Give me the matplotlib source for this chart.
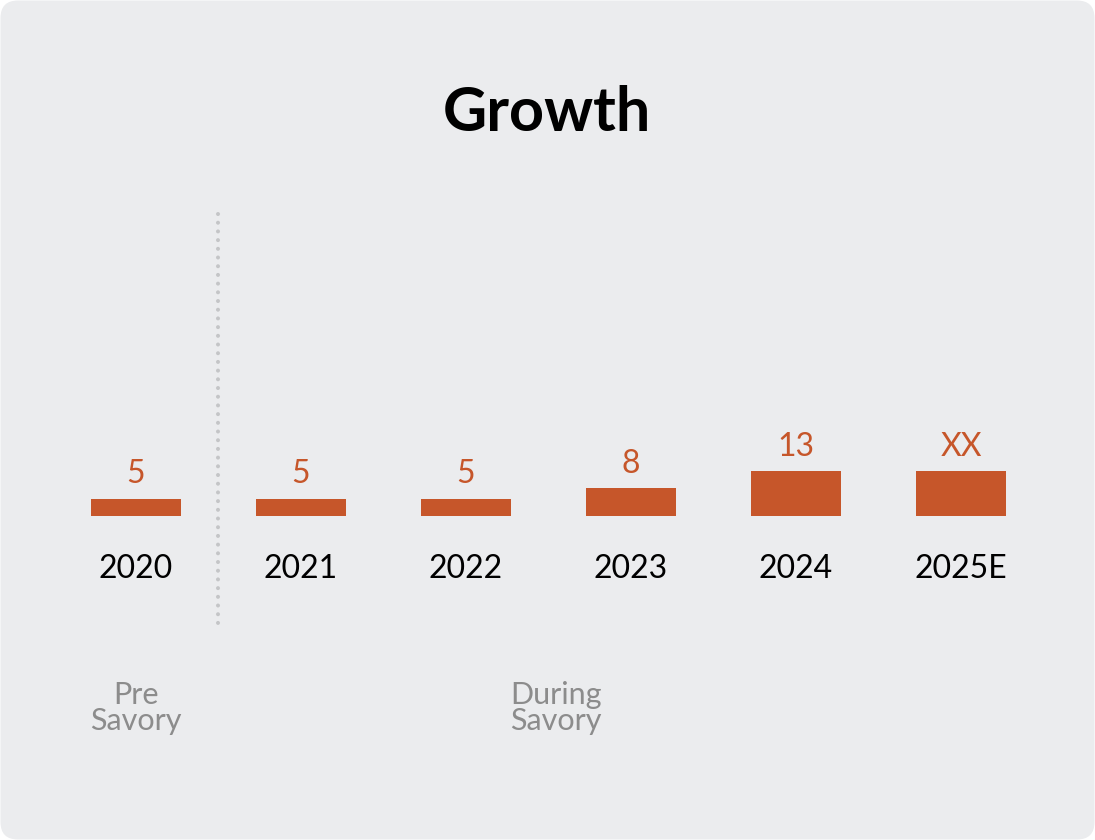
import matplotlib
matplotlib.use("Agg")
import matplotlib.pyplot as plt
from matplotlib.patches import FancyBboxPatch

# ---- data ----
years = ["2020", "2021", "2022", "2023", "2024", "2025E"]
values = [5, 5, 5, 8, 13, 13]
value_labels = ["5", "5", "5", "8", "13", "XX"]
groups = ["Pre\nSavory", "During\nSavory"]
title = "Growth"

# ---- style ----
W, H, DPI = 1095, 840, 100
BG = "#EBECEE"
BAR = "#C6562A"
GRAY = "#8C8C8C"
FONT = "Lato"
PX_PER_UNIT = 3.45
BASE_Y = 516  # pixel row (from top) of bar baseline
X0, DX = 136, 165  # pixel centre of first bar and spacing

plt.rcParams['font.family'] = [FONT, 'DejaVu Sans']

fig = plt.figure(figsize=(W / DPI, H / DPI), dpi=DPI)
fig.patch.set_facecolor("white")

bg = FancyBboxPatch((0.5 / W, 0.5 / H), (W - 1) / W, (H - 1) / H,
                    boxstyle="round,pad=0,rounding_size=0.016",
                    transform=fig.transFigure, facecolor=BG, edgecolor="none",
                    mutation_aspect=W / H, zorder=-10)
fig.patches.append(bg)

ax = fig.add_axes([0, 0, 1, 1])
ax.set_facecolor("none")
ax.set_xlim(-X0 / DX, (W - X0) / DX)
ax.set_ylim(-(H - BASE_Y) / PX_PER_UNIT, BASE_Y / PX_PER_UNIT)
ax.axis("off")


def py(pix):
    """pixel row from top -> data y"""
    return (BASE_Y - pix) / PX_PER_UNIT


xs = list(range(len(years)))
bars = ax.bar(xs, values, width=90 / DX, color=BAR, linewidth=0)

for x, v, lab in zip(xs, values, value_labels):
    ax.annotate(lab, (x, v), xytext=(0, 11), textcoords="offset points",
                ha="center", va="baseline", fontsize=23, color=BAR)

for x, y in zip(xs, years):
    ax.text(x, py(578), y, ha="center", va="baseline", fontsize=23, color="black")

# divider
ax.plot([0.5, 0.5], [py(214), py(628)], color="#C4C5C7", linewidth=2.9,
        linestyle=(0, (0.01, 2.15)), dash_capstyle="round")

# group labels
ax.text(0, py(730), groups[0], ha="center", va="baseline", fontsize=22,
        color=GRAY, multialignment="center", linespacing=0.93)
ax.text((556 - X0) / DX, py(730), groups[1], ha="center", va="baseline", fontsize=22,
        color=GRAY, multialignment="center", linespacing=0.93)

ax.text((547 - X0) / DX, py(131), title, ha="center", va="baseline",
        fontsize=44, fontweight="bold", color="black")

fig.savefig("out.png", dpi=DPI, facecolor=fig.get_facecolor())
